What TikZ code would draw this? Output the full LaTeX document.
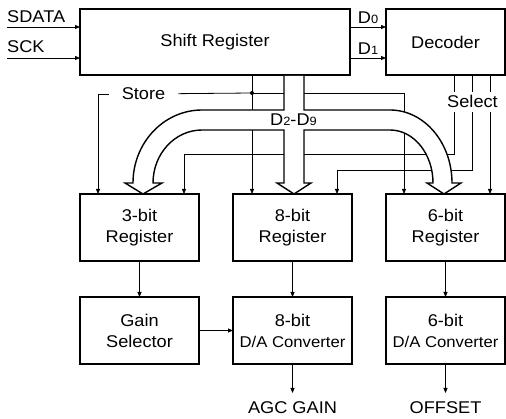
\documentclass[tikz,border=0pt]{standalone}
\usepackage{fontspec}
\setmainfont{Liberation Sans}[FakeStretch=1.07]
\usetikzlibrary{
    positioning,
    arrows.meta
}
\newcommand{\bitno}[1]{{\fontsize{12}{12}\selectfont #1}}
\newcommand{\dacfont}{\fontsize{15.6}{21}\selectfont}

\begin{document}
\begin{tikzpicture}
[
    x=1pt,
    y=1pt,
    font=\fontsize{17}{21}\selectfont,
    block/.style={
        rectangle,
        draw=black,
        line width=1.6pt,
        align=center,
        outer sep=0pt,
        minimum width=119pt,
        minimum height=67pt
    },
    arrow/.style={
        -{Triangle[length=5pt,width=4pt]},
        line width=0.8pt
    },
    wire/.style={
        line width=0.8pt
    },
    bus/.style={
        draw=black,
        fill=white,
        line width=1.4pt,
        line join=miter
    },
    tag/.style={
        inner sep=0pt,
        text depth=0pt
    }
]

\useasboundingbox (0,0) rectangle (506,-419);

% =====================
% SERIAL INTERFACE
% =====================

\node[
block,
minimum width=270pt,
minimum height=66pt
]
(shiftreg)
at (215,-42)
{Shift Register};


\node[
block,
minimum height=66pt,
right=36pt of shiftreg
]
(decoder)
{Decoder};


\coordinate (sdata) at (7,-27);
\coordinate (sck) at (7,-58);

\node[tag, anchor=south west] (sdatatxt) at (7,-23) {SDATA};
\node[tag, anchor=south west] (scktxt) at (7,-53) {SCK};



% =====================
% REGISTERS
% =====================

\node[
block
]
(reg3)
at (139.5,-227.5)
{3-bit\\Register};


\node[
block,
right=34pt of reg3
]
(reg8)
{8-bit\\Register};


\node[
block,
right=34pt of reg8
]
(reg6)
{6-bit\\Register};



% =====================
% CONVERTERS
% =====================

\node[
block,
below=36pt of reg3
]
(gainsel)
{Gain\\Selector};


\node[
block,
below=36pt of reg8
]
(dac8)
{8-bit\\{\dacfont D/A Converter}};


\node[
block,
below=36pt of reg6
]
(dac6)
{6-bit\\{\dacfont D/A Converter}};


\node[tag, inner ysep=8pt, below=29pt of dac8] (agc) {AGC GAIN};
\node[tag, inner ysep=8pt, below=29pt of dac6] (offset) {OFFSET};



% =====================
% CONNECTIONS
% =====================

\draw[arrow] (sdata) -- (sdata -| shiftreg.west);
\draw[arrow] (sck) -- (sck -| shiftreg.west);

\draw[arrow]
(shiftreg.east |- sdata)
--
node[tag, above=3pt] (d0txt) {D\bitno{0}}
(decoder.west |- sdata);

\draw[arrow]
(shiftreg.east |- sck)
--
node[tag, above=3pt] (d1txt) {D\bitno{1}}
(decoder.west |- sck);


% store strobe
\coordinate (store) at (252,-93);

\node[
tag,
fill=white,
inner xsep=13pt,
text height=12pt
]
(storetxt)
at (143.5,-94)
{Store};

\draw[wire] (store) -- (storetxt);
\draw[arrow] (storetxt) -| ([xshift=18pt]reg3.north west);
\draw[arrow] (store |- shiftreg.south) -- (store |- reg8.north);
\draw[arrow] (store) -| ([xshift=18pt]reg6.north west);
\fill (store) circle (2pt);


% select lines
\coordinate (sel1) at ([xshift=68pt]decoder.south west);
\coordinate (sel2) at ([xshift=86pt]decoder.south west);
\coordinate (sel3) at ([xshift=104pt]decoder.south west);
\coordinate (levA) at (0,-154);
\coordinate (levB) at (0,-170);

\draw[arrow] (sel1) -- (sel1 |- levA) -| ([xshift=104pt]reg3.north west);
\draw[arrow] (sel2) -- (sel2 |- levB) -| ([xshift=104pt]reg8.north west);
\draw[arrow] (sel3) -- (sel3 |- reg6.north);


\draw[arrow] (reg3) -- (gainsel);
\draw[arrow] (reg8) -- (dac8);
\draw[arrow] (reg6) -- (dac6);
\draw[arrow] (gainsel) -- (dac8);
\draw[arrow] (dac8) -- (agc);
\draw[arrow] (dac6) -- (offset);



% =====================
% DATA BUS D2-D9
% =====================

\draw[bus]
(284,-76) -- (284,-110) -- (202,-110)
arc[start angle=90, end angle=180, x radius=69pt, y radius=73pt]
-- (125,-183) -- (143,-194) -- (162,-183) -- (153,-183)
arc[start angle=180, end angle=90, x radius=49pt, y radius=53pt]
-- (284,-130) -- (284,-183) -- (277,-183) -- (294,-194) -- (311,-183)
-- (304,-183) -- (304,-130) -- (390,-130)
arc[start angle=90, end angle=0, x radius=43pt, y radius=53pt]
-- (427,-183) -- (444,-194) -- (461,-183) -- (452,-183)
arc[start angle=0, end angle=90, x radius=62pt, y radius=73pt]
-- (304,-110) -- (304,-76);

\node[tag, anchor=base] (bustxt) at (293.5,-126) {D\bitno{2}-D\bitno{9}};

\node[
tag,
fill=white,
inner xsep=2pt,
inner ysep=4pt,
text height=12pt,
anchor=base
]
(seltxt)
at (472.5,-108)
{Select};


\end{tikzpicture}
\end{document}
